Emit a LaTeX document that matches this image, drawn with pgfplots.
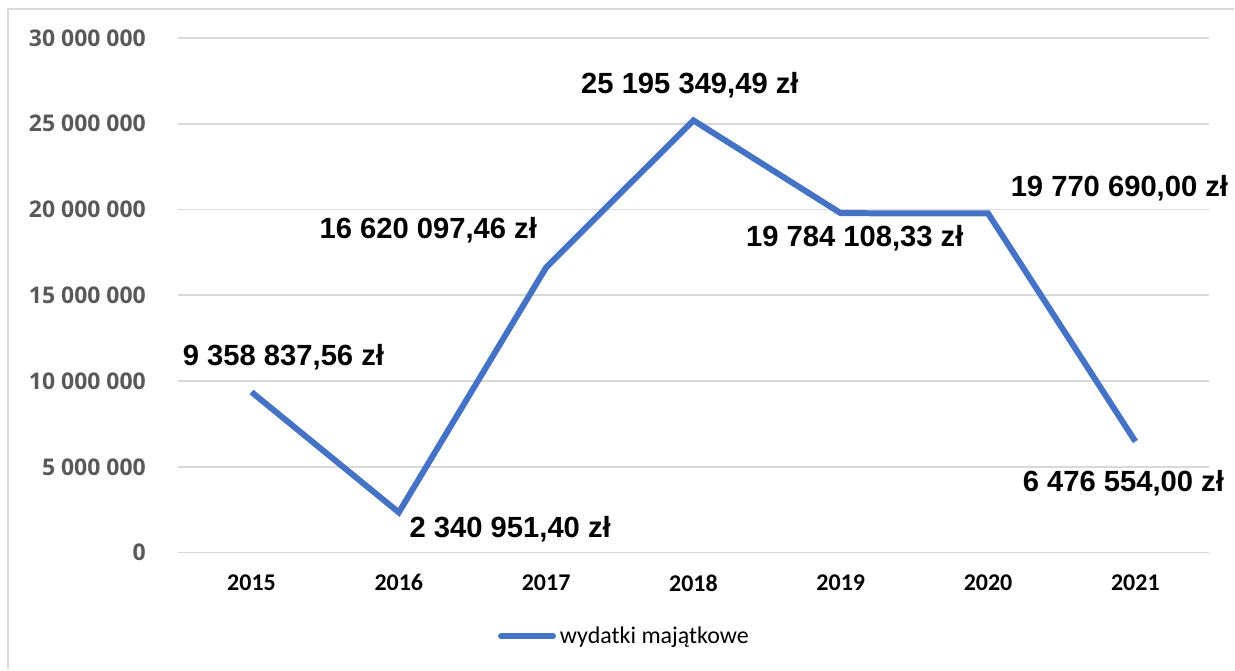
\documentclass[border=0pt]{standalone}
\usepackage{pgfplots}
\pgfplotsset{compat=1.18}
\usepackage{fontspec}
\setmainfont{Carlito}
\newfontfamily\tickfont{Open Sans}
\newfontfamily\labfont{Liberation Sans}

\definecolor{serblue}{HTML}{4472C4}
\definecolor{gridgray}{HTML}{D9D9D9}
\definecolor{tickgray}{HTML}{595959}

\begin{document}
\begin{tikzpicture}
\begin{axis}[
    scale only axis,
    width=516pt, height=257.5pt,
    xmin=-0.5, xmax=6.5,
    ymin=0, ymax=30000000,
    scaled y ticks=false,
    xtick={0,...,6},
    xticklabels={2015,2016,2017,2018,2019,2020,2021},
    ytick={0,5000000,10000000,15000000,20000000,25000000,30000000},
    yticklabels={0,5 000 000,10 000 000,15 000 000,20 000 000,25 000 000,30 000 000},
    axis line style={draw=none},
    tick style={draw=none},
    ymajorgrids,
    grid style={gridgray, line width=0.9pt},
    xticklabel style={font=\fontsize{12}{14}\selectfont\bfseries, text=black, yshift=-7.5pt},
    yticklabel style={font=\fontsize{11.5}{14}\tickfont\bfseries, text=tickgray, xshift=-12.5pt},
    clip=false,
    legend style={at={(0.434,-0.163)}, anchor=center, draw=none,
        font=\fontsize{12}{14}\selectfont, inner sep=0pt},
    legend cell align=left,
    legend image code/.code={\draw[line width=3pt, line cap=round, serblue] (0pt,0pt) -- (26pt,0pt);},
  ]
  \addplot[
      serblue, line width=3pt, line join=miter,
      point meta=explicit symbolic,
      visualization depends on={\thisrow{dx}\as\dx},
      visualization depends on={\thisrow{dy}\as\dy},
      nodes near coords,
      nodes near coords style={anchor=center, xshift=\dx pt, yshift=\dy pt,
          font=\fontsize{14.6}{17}\labfont\bfseries, text=black},
    ] table[col sep=semicolon, row sep=\\, meta=lab] {
      x;y;dx;dy;lab\\
      0;9358837.56;16;17.5;9 358 837,56 zł\\
      1;2340951.40;55.75;-8.6;2 340 951,40 zł\\
      2;16620097.46;-59;18.9;16 620 097,46 zł\\
      3;25195349.49;-1.75;17.8;25 195 349,49 zł\\
      4;19784108.33;7;-12.25;19 784 108,33 zł\\
      5;19770690.00;65.75;12.85;19 770 690,00 zł\\
      6;6476554.00;-6;-21;6 476 554,00 zł\\
    };
  \addlegendentry{wydatki majątkowe}
\end{axis}
\draw[gridgray, line width=1pt] (-85pt,-58.5pt) -- (-85pt,272pt) -- (528.5pt,272pt);
\path[use as bounding box] (-89pt,-58.5pt) rectangle (528.5pt,276.5pt);
\end{tikzpicture}
\end{document}
